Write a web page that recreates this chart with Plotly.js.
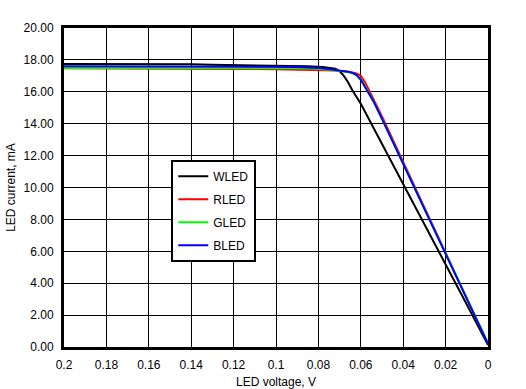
<!DOCTYPE html>
<html>
<head>
<meta charset="utf-8">
<script src="https://cdn.plot.ly/plotly-3.0.1.min.js"></script>
<style>html,body{margin:0;padding:0;background:#fff;}#chart{width:526px;height:389px;}</style>
</head>
<body>
<div id="chart"></div>
<script>
// Data (LED voltage in V, LED current in mA)
const seriesNames = ["WLED", "RLED", "GLED", "BLED"];
const seriesColors = ["#000000", "#ff0000", "#00ff00", "#0000ff"];

const wledV = [0.2, 0.18, 0.16, 0.14, 0.13, 0.12, 0.1, 0.085, 0.078, 0.074, 0.072, 0.07, 0.068, 0.066, 0.064, 0.06, 0.05, 0.04, 0.03, 0.02, 0.01, 0];
const wledI = [17.75, 17.75, 17.74, 17.73, 17.7, 17.68, 17.66, 17.6, 17.55, 17.5, 17.45, 17.3, 17.0, 16.6, 16.1, 15.25, 12.75, 10.23, 7.7, 5.18, 2.66, 0.13];

const rledV = [0.2, 0.18, 0.16, 0.14, 0.12, 0.1, 0.09, 0.08, 0.072, 0.066, 0.062, 0.06, 0.058, 0.055, 0.05, 0.04, 0.03, 0.02, 0.01, 0];
const rledI = [17.47, 17.47, 17.46, 17.45, 17.43, 17.42, 17.4, 17.38, 17.33, 17.25, 17.15, 17.0, 16.6, 15.8, 14.45, 11.6, 8.75, 5.9, 3.05, 0.2];

const gledV = [0.2, 0.18, 0.16, 0.14, 0.12, 0.1, 0.09, 0.08, 0.072, 0.066, 0.062, 0.06, 0.058, 0.056, 0.054, 0.05, 0.04, 0.03, 0.02, 0.01, 0];
const gledI = [17.5, 17.5, 17.5, 17.5, 17.5, 17.5, 17.48, 17.45, 17.35, 17.25, 17.05, 16.8, 16.35, 15.85, 15.4, 14.3, 11.5, 8.7, 5.9, 3.1, 0.25];

const bledV = [0.2, 0.18, 0.16, 0.14, 0.12, 0.1, 0.09, 0.08, 0.072, 0.066, 0.064, 0.062, 0.06, 0.058, 0.056, 0.054, 0.05, 0.04, 0.03, 0.02, 0.01, 0];
const bledI = [17.6, 17.6, 17.6, 17.6, 17.6, 17.58, 17.56, 17.5, 17.38, 17.25, 17.2, 17.05, 16.75, 16.3, 15.8, 15.4, 14.3, 11.5, 8.7, 5.9, 3.1, 0.2];

const xTickVals = [0.2, 0.18, 0.16, 0.14, 0.12, 0.1, 0.08, 0.06, 0.04, 0.02, 0];
const xTickText = ["0.2", "0.18", "0.16", "0.14", "0.12", "0.1", "0.08", "0.06", "0.04", "0.02", "0"];
const yTickVals = [0, 2, 4, 6, 8, 10, 12, 14, 16, 18, 20];
const yTickText = ["0.00", "2.00", "4.00", "6.00", "8.00", "10.00", "12.00", "14.00", "16.00", "18.00", "20.00"];

const xs = [wledV, rledV, gledV, bledV];
const ys = [wledI, rledI, gledI, bledI];

const traces = seriesNames.map((n, i) => ({
  type: "scatter",
  mode: "lines",
  name: n,
  legendgroup: n,
  x: xs[i],
  y: ys[i],
  line: {color: seriesColors[i], width: 2}
}));

const font = {family: "Liberation Sans, Arial, sans-serif", size: 12, color: "#000"};

const layout = {
  width: 526,
  height: 389,
  margin: {l: 64, r: 38, t: 28, b: 42},
  paper_bgcolor: "#fff",
  plot_bgcolor: "#fff",
  font: font,
  showlegend: true,
  legend: {
    x: 0.253, y: 0.587, xanchor: "left", yanchor: "top",
    bgcolor: "#fff", bordercolor: "#000", borderwidth: 2,
    font: font, tracegroupgap: 4, itemwidth: 30
  },
  xaxis: {
    range: [0.2, 0],
    tickvals: xTickVals, ticktext: xTickText,
    showgrid: true, gridcolor: "#000", gridwidth: 1,
    showline: true, linecolor: "#000", linewidth: 3, mirror: true,
    zeroline: false, ticks: "", ticklabelstandoff: 5,
    title: {text: "LED voltage, V", font: font, standoff: 8}
  },
  yaxis: {
    range: [0, 20],
    tickvals: yTickVals, ticktext: yTickText,
    showgrid: true, gridcolor: "#000", gridwidth: 1,
    showline: true, linecolor: "#000", linewidth: 3, mirror: true,
    zeroline: false, ticks: "", ticklabelstandoff: 5,
    title: {text: "LED current, mA", font: font, standoff: 6}
  }
};

Plotly.newPlot("chart", traces, layout, {staticPlot: true, displayModeBar: false});
</script>
</body>
</html>
